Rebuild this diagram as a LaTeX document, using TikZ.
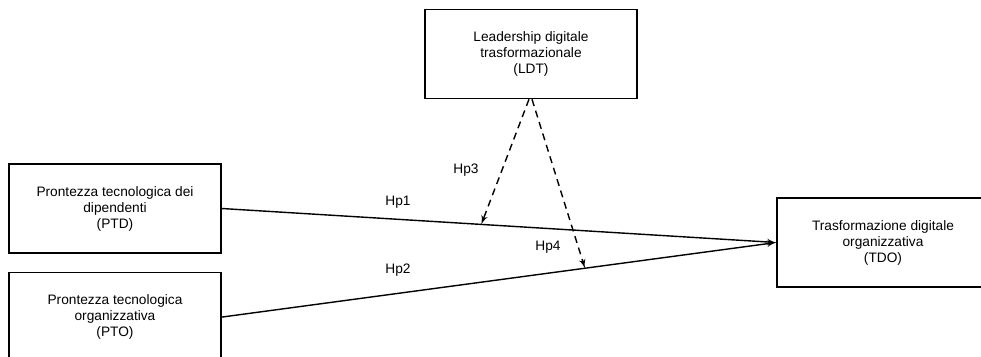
\documentclass[tikz,border=0pt]{standalone}
\usepackage{fontspec}
\setmainfont{Liberation Sans}
\usepackage{tikz}
\usetikzlibrary{arrows, positioning, shapes}

\begin{document}
\begin{tikzpicture}[
	box/.style={draw, line width=0.9pt, align=center, minimum width=4.24cm, minimum height=1.78cm},
	every node/.style={font=\fontsize{7.8}{9.1}\selectfont},
	lnk/.style={draw, line width=0.8pt, -latex'},
	mod/.style={draw, line width=0.8pt, dash pattern=on 4pt off 2.8pt, -latex'}
]

\useasboundingbox (0,0) rectangle (19.62,-7.12);

\node [box] (1) at (2.30,-4.17) {
	Prontezza tecnologica dei \\
	dipendenti \\
	(PTD)
};

\node [box, below=0.36cm of 1] (2) {
	Prontezza tecnologica \\
	organizzativa \\
	(PTO)
};

\node [box] (3) at (10.62,-1.08) {
	Leadership digitale \\
	trasformazionale \\
	(LDT)
};

\node [box] (4) at (17.66,-4.85) {
	Trasformazione digitale \\
	organizzativa \\
	(TDO)
};

\path [lnk] (1.east) -- coordinate[pos=0.468] (a) (4.west);
\path [lnk] (2.east) -- coordinate[pos=0.655] (b) (4.west);

\path [mod] ([xshift=-0.04cm]3.south) -- (a);
\path [mod] ([xshift=0.02cm]3.south) -- (b);

\node (5) at (7.96,-4.04) {Hp1};
\node (6) at (7.96,-5.40) {Hp2};
\node (7) at (9.32,-3.40) {Hp3};
\node (8) at (10.96,-4.94) {Hp4};

\end{tikzpicture}
\end{document}
